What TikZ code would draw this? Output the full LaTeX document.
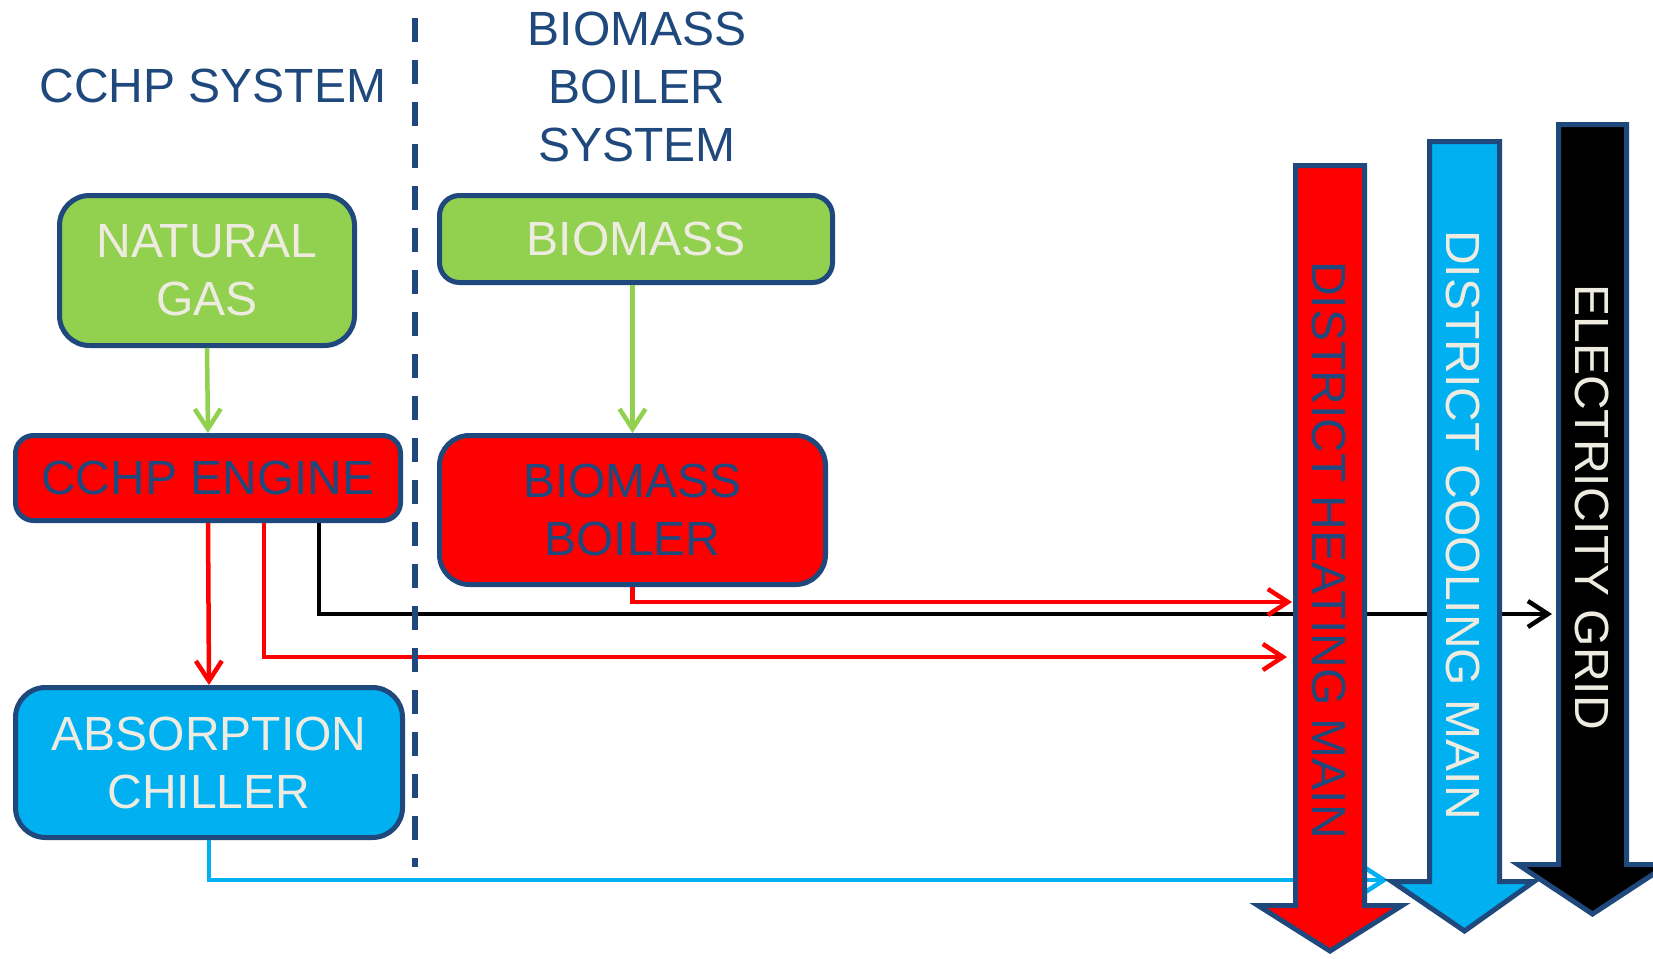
\documentclass[tikz,border=0pt]{standalone}
\usepackage{fontspec}
\setmainfont{Liberation Sans}
\usetikzlibrary{arrows.meta,calc}
\definecolor{dblue}{HTML}{1F497D}
\definecolor{lgreen}{HTML}{92D050}
\definecolor{cred}{HTML}{FF0000}
\definecolor{ccyan}{HTML}{00B0F0}
\definecolor{cream}{HTML}{EEECE1}
\begin{document}
\begin{tikzpicture}[x=1pt,y=-1pt,
  box/.style={draw=dblue, line width=5pt, rectangle, rounded corners=#1, align=center,
    inner sep=0pt, font=\fontsize{48}{58}\selectfont},
  box/.default=30pt,
  heading/.style={text=dblue, align=center, inner sep=0pt, font=\fontsize{48}{58}\selectfont},
  vlabel/.style={rotate=-90, inner sep=0pt, font=\fontsize{48}{58}\selectfont},
  bigarrow/.style={draw=dblue, line width=5pt, line join=miter},
  conn/.style={line width=4.5pt, -{Straight Barb[length=20pt,width=26pt]}},
  gline/.style={conn, draw=lgreen},
  rline/.style={conn, draw=cred},
  kline/.style={conn, draw=black},
  cline/.style={conn, draw=ccyan},
  divider/.style={draw=dblue, line width=6pt, dash pattern=on 24pt off 18pt}
]
\useasboundingbox (0,0) rectangle (1653,958);
\clip (0,0) rectangle (1653,958);
\fill[white] (0,0) rectangle (1653,958);

% headings
\node[heading, anchor=base] (hcchp) at (213,102) {CCHP SYSTEM};
\node[heading] (hbio) at (637,87) {BIOMASS\\BOILER\\SYSTEM};

% boxes
\node[box, fill=lgreen, text=cream, minimum width=295pt, minimum height=150pt] (ng) at (207,270.5) {NATURAL\\GAS};
\node[box=18pt, fill=cred, text=dblue, minimum width=385pt, minimum height=85pt] (cchp) at (208,478) {CCHP ENGINE};
\node[box, fill=ccyan, text=cream, minimum width=387pt, minimum height=150pt] (chiller) at (209,762.5) {ABSORPTION\\CHILLER};
\node[box=20pt, fill=lgreen, text=cream, minimum width=393pt, minimum height=87pt] (bm) at (636,239) {BIOMASS};
\node[box, fill=cred, text=dblue, minimum width=386pt, minimum height=149pt] (boiler) at (632.5,510) {BIOMASS\\BOILER};

% connector end points at the mains
\coordinate (hin1) at (1292,602);
\coordinate (hin2) at (1287,657);
\coordinate (gin) at (1552,614);
\coordinate (cin) at (1388,880);

% connectors
\draw[gline] (ng.south) -- (cchp.north);
\draw[gline] (bm.south -| boiler.north) -- (boiler.north);
\draw[rline] (cchp.south) -- (chiller.north);
\draw[kline] ([xshift=111pt]cchp.south) |- (gin);
\draw[rline] ([xshift=56pt]cchp.south) |- (hin2);
\draw[rline] (boiler.south) |- (hin1);
\draw[cline] (chiller.south) |- (cin);

% divider
\draw[divider] (415,18) -- (415,867);

% big arrows (mains)
\draw[bigarrow, fill=cred] (1295.5,165.5) -- (1364.5,165.5) -- (1364.5,905.5) -- (1402,905.5)
  -- (1330,951) -- (1258,905.5) -- (1295.5,905.5) -- cycle;
\draw[bigarrow, fill=ccyan] (1429.5,141.5) -- (1499.5,141.5) -- (1499.5,881.5) -- (1534,881.5)
  -- (1464.5,931) -- (1392,881.5) -- (1429.5,881.5) -- cycle;
\draw[bigarrow, fill=black] (1558.5,124.5) -- (1626.5,124.5) -- (1626.5,864.5) -- (1668,864.5)
  -- (1592.5,914) -- (1518,864.5) -- (1558.5,864.5) -- cycle;

\node[vlabel, text=dblue] (heat) at (1329,550) {DISTRICT HEATING MAIN};
\node[vlabel, text=cream] (cool) at (1463,525) {DISTRICT COOLING MAIN};
\node[vlabel, text=cream] (grid) at (1592,507) {ELECTRICITY GRID};
\end{tikzpicture}
\end{document}
